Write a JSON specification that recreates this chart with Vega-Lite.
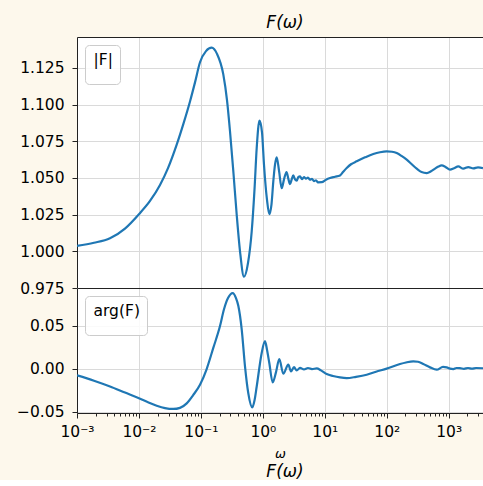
{
  "$schema": "https://vega.github.io/schema/vega-lite/v6.json",
  "background": "#fdf8ec",
  "padding": {"left": 16, "top": 14, "right": 0, "bottom": 0},
  "autosize": {"type": "pad"},
  "bounds": "flush",
  "spacing": 0,
  "datasets": {
    "mag": [
      {"omega": 0.001, "value": 1.0037, "series": "|F|"},
      {"omega": 0.00188, "value": 1.0058, "series": "|F|"},
      {"omega": 0.00341, "value": 1.0089, "series": "|F|"},
      {"omega": 0.00595, "value": 1.0155, "series": "|F|"},
      {"omega": 0.01, "value": 1.0253, "series": "|F|"},
      {"omega": 0.01508, "value": 1.0343, "series": "|F|"},
      {"omega": 0.02187, "value": 1.0452, "series": "|F|"},
      {"omega": 0.02944, "value": 1.0567, "series": "|F|"},
      {"omega": 0.04068, "value": 1.0727, "series": "|F|"},
      {"omega": 0.05336, "value": 1.0882, "series": "|F|"},
      {"omega": 0.0667, "value": 1.1021, "series": "|F|"},
      {"omega": 0.08034, "value": 1.1151, "series": "|F|"},
      {"omega": 0.09672, "value": 1.1288, "series": "|F|"},
      {"omega": 0.1208, "value": 1.1364, "series": "|F|"},
      {"omega": 0.1493, "value": 1.1387, "series": "|F|"},
      {"omega": 0.182, "value": 1.1345, "series": "|F|"},
      {"omega": 0.2299, "value": 1.1205, "series": "|F|"},
      {"omega": 0.2638, "value": 1.103, "series": "|F|"},
      {"omega": 0.2949, "value": 1.0818, "series": "|F|"},
      {"omega": 0.3359, "value": 1.053, "series": "|F|"},
      {"omega": 0.3784, "value": 1.0249, "series": "|F|"},
      {"omega": 0.4279, "value": 1.0, "series": "|F|"},
      {"omega": 0.4963, "value": 0.9827, "series": "|F|"},
      {"omega": 0.5758, "value": 0.992, "series": "|F|"},
      {"omega": 0.6607, "value": 1.0135, "series": "|F|"},
      {"omega": 0.733, "value": 1.042, "series": "|F|"},
      {"omega": 0.7959, "value": 1.0704, "series": "|F|"},
      {"omega": 0.8829, "value": 1.089, "series": "|F|"},
      {"omega": 0.969, "value": 1.081, "series": "|F|"},
      {"omega": 1.0435, "value": 1.059, "series": "|F|"},
      {"omega": 1.167, "value": 1.035, "series": "|F|"},
      {"omega": 1.271, "value": 1.0253, "series": "|F|"},
      {"omega": 1.379, "value": 1.032, "series": "|F|"},
      {"omega": 1.475, "value": 1.0476, "series": "|F|"},
      {"omega": 1.571, "value": 1.059, "series": "|F|"},
      {"omega": 1.673, "value": 1.064, "series": "|F|"},
      {"omega": 1.823, "value": 1.055, "series": "|F|"},
      {"omega": 2.015, "value": 1.043, "series": "|F|"},
      {"omega": 2.195, "value": 1.049, "series": "|F|"},
      {"omega": 2.409, "value": 1.054, "series": "|F|"},
      {"omega": 2.594, "value": 1.049, "series": "|F|"},
      {"omega": 2.744, "value": 1.0458, "series": "|F|"},
      {"omega": 2.922, "value": 1.049, "series": "|F|"},
      {"omega": 3.101, "value": 1.0517, "series": "|F|"},
      {"omega": 3.304, "value": 1.049, "series": "|F|"},
      {"omega": 3.52, "value": 1.0481, "series": "|F|"},
      {"omega": 3.735, "value": 1.0505, "series": "|F|"},
      {"omega": 3.979, "value": 1.051, "series": "|F|"},
      {"omega": 4.285, "value": 1.0492, "series": "|F|"},
      {"omega": 4.616, "value": 1.0506, "series": "|F|"},
      {"omega": 4.972, "value": 1.0495, "series": "|F|"},
      {"omega": 5.355, "value": 1.0502, "series": "|F|"},
      {"omega": 5.769, "value": 1.0488, "series": "|F|"},
      {"omega": 6.214, "value": 1.0494, "series": "|F|"},
      {"omega": 6.694, "value": 1.0478, "series": "|F|"},
      {"omega": 7.211, "value": 1.0484, "series": "|F|"},
      {"omega": 7.767, "value": 1.047, "series": "|F|"},
      {"omega": 8.913, "value": 1.0471, "series": "|F|"},
      {"omega": 10.46, "value": 1.0488, "series": "|F|"},
      {"omega": 12.13, "value": 1.0499, "series": "|F|"},
      {"omega": 14.61, "value": 1.0508, "series": "|F|"},
      {"omega": 17.6, "value": 1.0517, "series": "|F|"},
      {"omega": 19.67, "value": 1.054, "series": "|F|"},
      {"omega": 22.57, "value": 1.0567, "series": "|F|"},
      {"omega": 26.48, "value": 1.0593, "series": "|F|"},
      {"omega": 32.73, "value": 1.0613, "series": "|F|"},
      {"omega": 44.56, "value": 1.064, "series": "|F|"},
      {"omega": 60.67, "value": 1.0663, "series": "|F|"},
      {"omega": 77.8, "value": 1.0675, "series": "|F|"},
      {"omega": 99.8, "value": 1.0681, "series": "|F|"},
      {"omega": 121.6, "value": 1.0678, "series": "|F|"},
      {"omega": 144.8, "value": 1.0669, "series": "|F|"},
      {"omega": 173, "value": 1.065, "series": "|F|"},
      {"omega": 209.9, "value": 1.0624, "series": "|F|"},
      {"omega": 250.9, "value": 1.0595, "series": "|F|"},
      {"omega": 304.3, "value": 1.0563, "series": "|F|"},
      {"omega": 363.9, "value": 1.054, "series": "|F|"},
      {"omega": 441.6, "value": 1.0533, "series": "|F|"},
      {"omega": 517.9, "value": 1.0545, "series": "|F|"},
      {"omega": 601, "value": 1.0563, "series": "|F|"},
      {"omega": 684.6, "value": 1.0578, "series": "|F|"},
      {"omega": 770.9, "value": 1.0585, "series": "|F|"},
      {"omega": 887.8, "value": 1.0575, "series": "|F|"},
      {"omega": 1049.5, "value": 1.0556, "series": "|F|"},
      {"omega": 1218, "value": 1.0566, "series": "|F|"},
      {"omega": 1429, "value": 1.0578, "series": "|F|"},
      {"omega": 1721, "value": 1.0563, "series": "|F|"},
      {"omega": 2072, "value": 1.0574, "series": "|F|"},
      {"omega": 2495, "value": 1.0565, "series": "|F|"},
      {"omega": 2972, "value": 1.0572, "series": "|F|"},
      {"omega": 3578, "value": 1.0567, "series": "|F|"}
    ],
    "arg": [
      {"omega": 0.001, "value": -0.0078, "series": "arg(F)"},
      {"omega": 0.00188, "value": -0.014, "series": "arg(F)"},
      {"omega": 0.00341, "value": -0.0207, "series": "arg(F)"},
      {"omega": 0.00595, "value": -0.0278, "series": "arg(F)"},
      {"omega": 0.01, "value": -0.0344, "series": "arg(F)"},
      {"omega": 0.014, "value": -0.039, "series": "arg(F)"},
      {"omega": 0.01934, "value": -0.043, "series": "arg(F)"},
      {"omega": 0.02634, "value": -0.0458, "series": "arg(F)"},
      {"omega": 0.03584, "value": -0.0468, "series": "arg(F)"},
      {"omega": 0.04598, "value": -0.0455, "series": "arg(F)"},
      {"omega": 0.059, "value": -0.0403, "series": "arg(F)"},
      {"omega": 0.07458, "value": -0.031, "series": "arg(F)"},
      {"omega": 0.09672, "value": -0.0187, "series": "arg(F)"},
      {"omega": 0.1231, "value": -0.001, "series": "arg(F)"},
      {"omega": 0.1585, "value": 0.0241, "series": "arg(F)"},
      {"omega": 0.2034, "value": 0.0495, "series": "arg(F)"},
      {"omega": 0.236, "value": 0.069, "series": "arg(F)"},
      {"omega": 0.2739, "value": 0.082, "series": "arg(F)"},
      {"omega": 0.3261, "value": 0.0878, "series": "arg(F)"},
      {"omega": 0.3686, "value": 0.082, "series": "arg(F)"},
      {"omega": 0.4016, "value": 0.073, "series": "arg(F)"},
      {"omega": 0.4556, "value": 0.0457, "series": "arg(F)"},
      {"omega": 0.515, "value": 0.0027, "series": "arg(F)"},
      {"omega": 0.5822, "value": -0.0286, "series": "arg(F)"},
      {"omega": 0.6756, "value": -0.045, "series": "arg(F)"},
      {"omega": 0.733, "value": -0.037, "series": "arg(F)"},
      {"omega": 0.7959, "value": -0.0207, "series": "arg(F)"},
      {"omega": 0.9581, "value": 0.0183, "series": "arg(F)"},
      {"omega": 1.083, "value": 0.032, "series": "arg(F)"},
      {"omega": 1.167, "value": 0.022, "series": "arg(F)"},
      {"omega": 1.271, "value": 0.0066, "series": "arg(F)"},
      {"omega": 1.442, "value": -0.016, "series": "arg(F)"},
      {"omega": 1.631, "value": -0.004, "series": "arg(F)"},
      {"omega": 1.843, "value": 0.0112, "series": "arg(F)"},
      {"omega": 2.138, "value": -0.0059, "series": "arg(F)"},
      {"omega": 2.575, "value": 0.0047, "series": "arg(F)"},
      {"omega": 2.847, "value": -0.0032, "series": "arg(F)"},
      {"omega": 3.183, "value": 0.0019, "series": "arg(F)"},
      {"omega": 3.52, "value": -0.002, "series": "arg(F)"},
      {"omega": 3.979, "value": 0.001, "series": "arg(F)"},
      {"omega": 4.616, "value": -0.0008, "series": "arg(F)"},
      {"omega": 5.355, "value": 0.0008, "series": "arg(F)"},
      {"omega": 6.214, "value": -0.0005, "series": "arg(F)"},
      {"omega": 7.401, "value": 0.0003, "series": "arg(F)"},
      {"omega": 8.685, "value": -0.002, "series": "arg(F)"},
      {"omega": 10.73, "value": -0.0063, "series": "arg(F)"},
      {"omega": 13.56, "value": -0.0085, "series": "arg(F)"},
      {"omega": 17.6, "value": -0.0102, "series": "arg(F)"},
      {"omega": 22.57, "value": -0.011, "series": "arg(F)"},
      {"omega": 31.89, "value": -0.0095, "series": "arg(F)"},
      {"omega": 47.46, "value": -0.007, "series": "arg(F)"},
      {"omega": 67.07, "value": -0.0035, "series": "arg(F)"},
      {"omega": 99.8, "value": 0.0, "series": "arg(F)"},
      {"omega": 163.7, "value": 0.0054, "series": "arg(F)"},
      {"omega": 204.5, "value": 0.0072, "series": "arg(F)"},
      {"omega": 268.3, "value": 0.0085, "series": "arg(F)"},
      {"omega": 319.4, "value": 0.008, "series": "arg(F)"},
      {"omega": 389, "value": 0.0054, "series": "arg(F)"},
      {"omega": 499, "value": 0.0015, "series": "arg(F)"},
      {"omega": 640.3, "value": -0.0012, "series": "arg(F)"},
      {"omega": 809.1, "value": 0.002, "series": "arg(F)"},
      {"omega": 928.4, "value": 0.0015, "series": "arg(F)"},
      {"omega": 1049.5, "value": 0.0, "series": "arg(F)"},
      {"omega": 1187, "value": -0.0005, "series": "arg(F)"},
      {"omega": 1336, "value": 0.0008, "series": "arg(F)"},
      {"omega": 1522, "value": 0.0007, "series": "arg(F)"},
      {"omega": 1766, "value": -0.0002, "series": "arg(F)"},
      {"omega": 2049, "value": 0.0008, "series": "arg(F)"},
      {"omega": 2377, "value": 0.0, "series": "arg(F)"},
      {"omega": 2759, "value": 0.0008, "series": "arg(F)"},
      {"omega": 3578, "value": 0.0005, "series": "arg(F)"}
    ]
  },
  "config": {
    "font": "DejaVu Sans",
    "view": {"stroke": null, "fill": "white"},
    "axis": {
      "labelFont": "DejaVu Sans",
      "labelFontSize": 15.5,
      "labelColor": "#000000",
      "domainColor": "#222222",
      "domainWidth": 1,
      "tickColor": "#222222",
      "tickWidth": 1,
      "gridColor": "#dadada",
      "gridWidth": 1
    },
    "legend": {
      "orient": "top-left",
      "offset": 8,
      "padding": 7,
      "strokeColor": "#cccccc",
      "cornerRadius": 4,
      "fillColor": "rgba(255,255,255,0.85)",
      "labelFont": "DejaVu Sans",
      "labelFontSize": 15.5,
      "labelColor": "#000000",
      "symbolType": "circle",
      "symbolSize": 0,
      "symbolOpacity": 0,
      "symbolStrokeWidth": 0,
      "labelOffset": 0,
      "titleOrient": "bottom",
      "titleFontSize": 9,
      "titlePadding": 0
    }
  },
  "resolve": {"scale": {"color": "independent"}, "legend": {"color": "independent"}},
  "vconcat": [
    {
      "width": 406,
      "height": 251,
      "data": {"name": "mag"},
      "title": {"text": "F(ω)", "frame": "group", "anchor": "middle", "dx": 5, "offset": -8, "fontSize": 17, "fontStyle": "italic", "fontWeight": "normal", "font": "DejaVu Sans", "color": "#000000", "baseline": "alphabetic"},
      "layer": [
        {
          "mark": {"type": "line", "strokeWidth": 2.2, "interpolate": "monotone", "clip": true},
          "encoding": {
            "x": {"field": "omega", "type": "quantitative",
              "scale": {"type": "log", "domain": [0.001, 3578], "nice": false},
              "axis": {"orient": "top", "labels": false, "ticks": false, "domain": true, "grid": true, "title": null,
                "values": [0.001, 0.01, 0.1, 1, 10, 100, 1000]}},
            "y": {"field": "value", "type": "quantitative",
              "scale": {"domain": [0.975, 1.146], "nice": false, "zero": false},
              "axis": {"values": [0.975, 1.0, 1.025, 1.05, 1.075, 1.1, 1.125], "format": ".3f", "title": null,
                "tickSize": 5, "labelPadding": 8, "grid": true, "domain": true}},
            "color": {"field": "series", "type": "nominal",
              "scale": {"domain": ["|F|"], "range": ["#1f77b4"]},
              "legend": {"title": " ", "symbolSize": 0, "labelOffset": -14, "symbolOpacity": 0}}
          }
        },
        {
          "mark": {"type": "line", "opacity": 0},
          "encoding": {
            "x": {"field": "omega", "type": "quantitative",
              "scale": {"type": "log", "domain": [0.001, 3578], "nice": false},
              "axis": {"orient": "bottom", "labels": false, "ticks": false, "domain": true, "grid": false, "title": null}},
            "y": {"field": "value", "type": "quantitative",
              "axis": {"values": [0.975, 1.0, 1.025, 1.05, 1.075, 1.1, 1.125], "format": ".3f", "title": null,
                "tickSize": 5, "labelPadding": 8, "grid": true, "domain": true}}
          }
        }
      ],
      "resolve": {"axis": {"x": "independent"}}
    },
    {
      "width": 406,
      "height": 125,
      "data": {"name": "arg"},
      "title": {"text": "F(ω)", "orient": "bottom", "frame": "group", "anchor": "middle", "dx": 5, "offset": 3, "fontSize": 17, "fontStyle": "italic", "fontWeight": "normal", "font": "DejaVu Sans", "color": "#000000"},
      "layer": [
        {
          "mark": {"type": "line", "strokeWidth": 2.2, "interpolate": "monotone", "clip": true},
          "encoding": {
            "x": {"field": "omega", "type": "quantitative",
              "scale": {"type": "log", "domain": [0.001, 3578], "nice": false},
              "axis": {
                "orient": "bottom",
                "values": [0.001, 0.002, 0.003, 0.004, 0.005, 0.006, 0.007, 0.008, 0.009,
                           0.01, 0.02, 0.03, 0.04, 0.05, 0.06, 0.07, 0.08, 0.09,
                           0.1, 0.2, 0.3, 0.4, 0.5, 0.6, 0.7, 0.8, 0.9,
                           1, 2, 3, 4, 5, 6, 7, 8, 9,
                           10, 20, 30, 40, 50, 60, 70, 80, 90,
                           100, 200, 300, 400, 500, 600, 700, 800, 900,
                           1000, 2000, 3000],
                "labelExpr": "abs(log(datum.value)/LN10 - round(log(datum.value)/LN10)) < 1e-6 ? '10' + ['⁻³','⁻²','⁻¹','⁰','¹','²','³'][round(log(datum.value)/LN10) + 3] : ''",
                "labelOverlap": false,
                "labelFlush": false,
                "labelPadding": 6,
                "tickSize": {"condition": {"test": "abs(log(datum.value)/LN10 - round(log(datum.value)/LN10)) < 1e-6", "value": 5}, "value": 3},
                "grid": true,
                "gridOpacity": {"condition": {"test": "abs(log(datum.value)/LN10 - round(log(datum.value)/LN10)) < 1e-6", "value": 1}, "value": 0},
                "domain": true,
                "title": "ω",
                "titleFont": "DejaVu Sans",
                "titleFontSize": 13,
                "titleFontStyle": "italic",
                "titleFontWeight": "normal",
                "titleColor": "#000000",
                "titlePadding": 8
              }},
            "y": {"field": "value", "type": "quantitative",
              "scale": {"domain": [-0.0515, 0.0937], "nice": false, "zero": false},
              "axis": {"values": [-0.05, 0, 0.05], "format": ".2f", "title": null,
                "tickSize": 5, "labelPadding": 8, "grid": true, "domain": true}},
            "color": {"field": "series", "type": "nominal",
              "scale": {"domain": ["arg(F)"], "range": ["#1f77b4"]},
              "legend": {"title": " ", "symbolSize": 0, "labelOffset": -14, "symbolOpacity": 0}}
          }
        },
        {
          "mark": {"type": "line", "opacity": 0},
          "encoding": {
            "x": {"field": "omega", "type": "quantitative",
              "scale": {"type": "log", "domain": [0.001, 3578], "nice": false},
              "axis": {"orient": "top", "labels": false, "ticks": false, "domain": true, "grid": false, "title": null}},
            "y": {"field": "value", "type": "quantitative",
              "axis": {"values": [-0.05, 0, 0.05], "format": ".2f", "title": null,
                "tickSize": 5, "labelPadding": 8, "grid": true, "domain": true}}
          }
        }
      ],
      "resolve": {"axis": {"x": "independent"}}
    }
  ]
}
